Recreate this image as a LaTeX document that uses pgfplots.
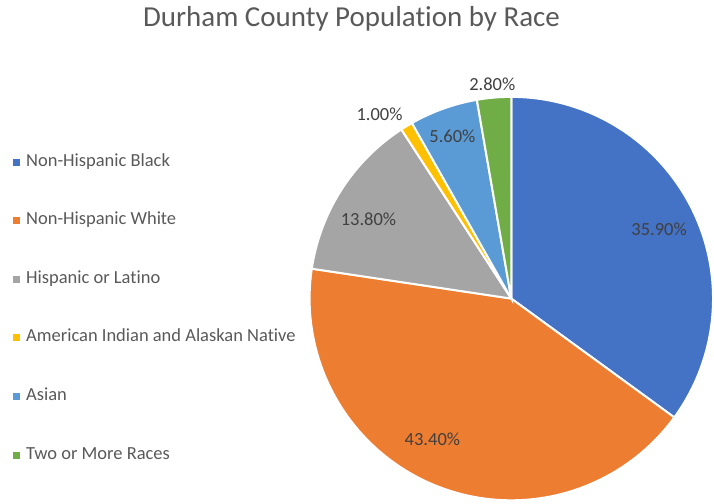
\documentclass[border=0pt]{standalone}
\usepackage{pgfplots}
\pgfplotsset{compat=1.18}
\usepackage{fontspec}
\setmainfont{Carlito}[Ligatures=NoCommon]
\definecolor{cBlack}{HTML}{4472C4}
\definecolor{cWhite}{HTML}{ED7D31}
\definecolor{cHisp}{HTML}{A5A5A5}
\definecolor{cAI}{HTML}{FFC000}
\definecolor{cAsian}{HTML}{5B9BD5}
\definecolor{cTwo}{HTML}{70AD47}
\definecolor{txt}{HTML}{595959}
\definecolor{lbl}{HTML}{404040}
% shares (percent): 35.9, 43.4, 13.8, 1.0, 5.6, 2.8  (total 102.5), drawn by cumulative share
\def\cx{512}\def\cy{205}\def\rr{202}\def\k{3.512195}
\begin{document}
\begin{tikzpicture}
\begin{axis}[
  scale only axis, width=714pt, height=504pt,
  xmin=0, xmax=714, ymin=0, ymax=504,
  hide axis, clip=false,
  samples=90, variable=\t,
  every axis plot/.append style={draw=white, line width=2pt},
  legend image code/.code={\path[#1,draw=none] (0pt,-3.5pt) rectangle (7pt,3.5pt);},
  legend cell align=left,
  legend style={draw=none, fill=none, at={(axis cs:10,195)}, anchor=west,
    font=\fontsize{18.5}{22}\selectfont, text=txt,
    row sep=40.7pt,
    nodes={inner sep=0pt, text height=13pt, text depth=5pt},
    /tikz/every odd column/.append style={column sep=6pt}},
]
\addplot[fill=cBlack, domain=0:35.9] ({\cx+\rr*cos(90-\t*\k)}, {\cy+\rr*sin(90-\t*\k)}) -- (axis cs:\cx,\cy) -- cycle;
\addlegendentry{Non-Hispanic Black}
\addplot[fill=cWhite, domain=35.9:79.3] ({\cx+\rr*cos(90-\t*\k)}, {\cy+\rr*sin(90-\t*\k)}) -- (axis cs:\cx,\cy) -- cycle;
\addlegendentry{Non-Hispanic White}
\addplot[fill=cHisp, domain=79.3:93.1] ({\cx+\rr*cos(90-\t*\k)}, {\cy+\rr*sin(90-\t*\k)}) -- (axis cs:\cx,\cy) -- cycle;
\addlegendentry{Hispanic or Latino}
\addplot[fill=cAI, domain=93.1:94.1, samples=10] ({\cx+\rr*cos(90-\t*\k)}, {\cy+\rr*sin(90-\t*\k)}) -- (axis cs:\cx,\cy) -- cycle;
\addlegendentry{American Indian and Alaskan Native}
\addplot[fill=cAsian, domain=94.1:99.7, samples=30] ({\cx+\rr*cos(90-\t*\k)}, {\cy+\rr*sin(90-\t*\k)}) -- (axis cs:\cx,\cy) -- cycle;
\addlegendentry{Asian}
\addplot[fill=cTwo, domain=99.7:102.5, samples=20] ({\cx+\rr*cos(90-\t*\k)}, {\cy+\rr*sin(90-\t*\k)}) -- (axis cs:\cx,\cy) -- cycle;
\addlegendentry{Two or More Races}
\path (axis cs:0,0) rectangle (axis cs:714,504);
\node[anchor=base, text=txt, font=\fontsize{29}{33}\selectfont] at (axis cs:352,477) {Durham County Population by Race};
\begin{scope}[every node/.style={text=lbl, font=\fontsize{18.5}{22}\selectfont}]
\node at (axis cs:660,274) {35.90\%};
\node at (axis cs:433,64) {43.40\%};
\node at (axis cs:369,284) {13.80\%};
\node at (axis cs:380,389.5) {1.00\%};
\node at (axis cs:453,368) {5.60\%};
\node at (axis cs:493,419.5) {2.80\%};
\end{scope}
\end{axis}
\end{tikzpicture}
\end{document}
